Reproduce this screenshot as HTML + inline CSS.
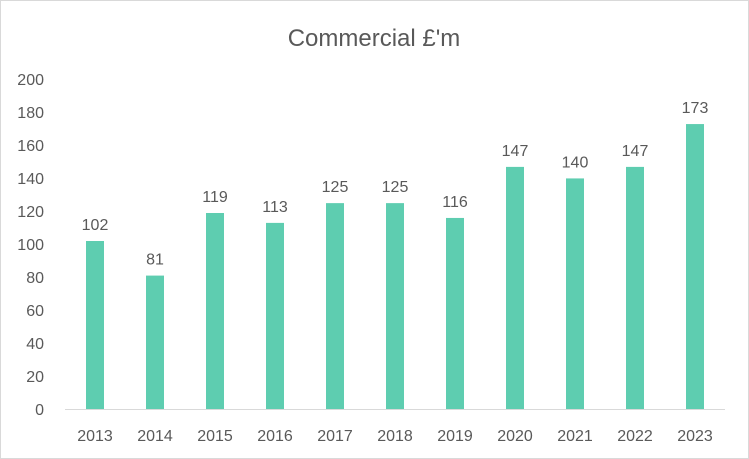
<!DOCTYPE html>
<html><head><style>
body{margin:0;background:#fff}
svg{display:block;font-family:"Liberation Sans",sans-serif}
</style></head><body>
<svg width="749" height="459" viewBox="0 0 749 459">
<rect x="0.5" y="0.5" width="748" height="458" fill="#fff" stroke="#d9d9d9"/>
<text x="374" y="46" text-anchor="middle" font-size="24" fill="#595959">Commercial £'m</text>
<g font-size="16" fill="#595959" text-anchor="end">
<text x="44" y="415">0</text><text x="44" y="382">20</text><text x="44" y="349">40</text><text x="44" y="316">60</text><text x="44" y="283">80</text><text x="44" y="250">100</text><text x="44" y="217">120</text><text x="44" y="184">140</text><text x="44" y="151">160</text><text x="44" y="118">180</text><text x="44" y="85">200</text>
</g>
<line x1="65" y1="409.5" x2="725" y2="409.5" stroke="#d9d9d9" stroke-width="1"/>
<g fill="#5ECDB0" id="bars"></g>
<g font-size="16" fill="#595959" text-anchor="middle" id="labels"></g>
<script>
var v=[102,81,119,113,125,125,116,147,140,147,173],b=document.getElementById('bars'),l=document.getElementById('labels'),ns='http://www.w3.org/2000/svg';
v.forEach(function(d,i){var cx=95+60*i,h=d*1.647,y=409-h;
var r=document.createElementNS(ns,'rect');r.setAttribute('x',cx-9);r.setAttribute('y',y);r.setAttribute('width',18);r.setAttribute('height',h);b.appendChild(r);
var t=document.createElementNS(ns,'text');t.setAttribute('x',cx);t.setAttribute('y',y-11);t.textContent=d;l.appendChild(t);
var t2=document.createElementNS(ns,'text');t2.setAttribute('x',cx);t2.setAttribute('y',441);t2.textContent=2013+i;l.appendChild(t2);});
</script>
</svg>
</body></html>
